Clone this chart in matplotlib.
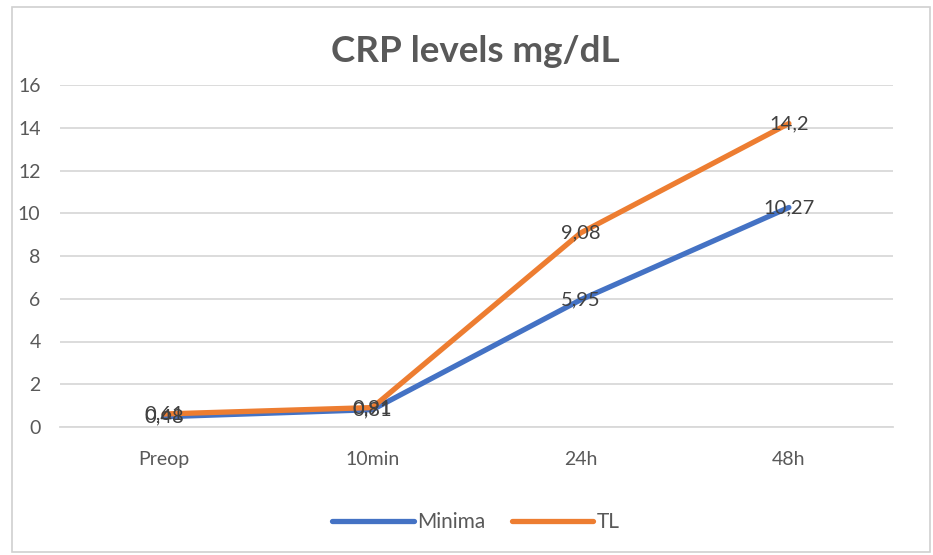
import matplotlib
matplotlib.use("Agg")
import matplotlib.pyplot as plt
from matplotlib.patches import Rectangle

categories = ["Preop", "10min", "24h", "48h"]
minima = [0.48, 0.81, 5.95, 10.27]
tl = [0.61, 0.91, 9.08, 14.2]
labels_minima = ["0,48", "0,81", "5,95", "10,27"]
labels_tl = ["0,61", "0,91", "9,08", "14,2"]
yticks = [0, 2, 4, 6, 8, 10, 12, 14, 16]

plt.rcParams['font.family'] = ['Lato', 'DejaVu Sans']

fig = plt.figure(figsize=(9.33, 5.55), dpi=100)
fig.patches.append(Rectangle((12/933, 0.005), (930-12)/933, 1-7/555-0.005, transform=fig.transFigure,
                             fill=False, edgecolor='#d0d0d0', linewidth=1.2))
ax = fig.add_axes([60/933, 1-427/555, (893-60)/933, (427-85)/555])

x = list(range(len(categories)))
ax.plot(x, minima, color='#4472C4', linewidth=3.8, solid_capstyle='round', label='Minima', zorder=3)
ax.plot(x, tl, color='#ED7D31', linewidth=3.8, solid_capstyle='round', label='TL', zorder=3)

for xi, v, s in zip(x, minima, labels_minima):
    ax.text(xi, v, s, ha='center', va='center', fontsize=14.5, color='#404040', zorder=4)
for xi, v, s in zip(x, tl, labels_tl):
    ax.text(xi, v, s, ha='center', va='center', fontsize=14.5, color='#404040', zorder=4)

ax.set_xlim(-0.5, len(categories) - 0.5)
ax.set_ylim(0, 16)
ax.set_yticks(yticks)
ax.set_yticklabels([str(t) for t in yticks])
ax.set_xticks(x)
ax.set_xticklabels(categories)
ax.tick_params(axis='both', length=0, labelsize=14, labelcolor='#595959')
ax.tick_params(axis='y', pad=14)
ax.tick_params(axis='x', pad=17)
ax.grid(axis='y', color='#d9d9d9', linewidth=1.3)
ax.set_axisbelow(True)
for sp in ['top', 'right', 'left']:
    ax.spines[sp].set_visible(False)
ax.spines['bottom'].set_color('#d9d9d9')
ax.spines['bottom'].set_linewidth(1.3)

fig.text(475/933, 1-52/555, "CRP levels mg/dL", ha='center', va='center', fontsize=26.5,
         fontweight='bold', color='#595959')

leg = fig.legend(loc='center', bbox_to_anchor=(476/933, 1-522/555), ncol=2, frameon=False,
                 fontsize=15, handlelength=3.9, handletextpad=0.15, columnspacing=1.3)
for t in leg.get_texts():
    t.set_color('#595959')

fig.savefig("out.png", dpi=100, facecolor='white')
